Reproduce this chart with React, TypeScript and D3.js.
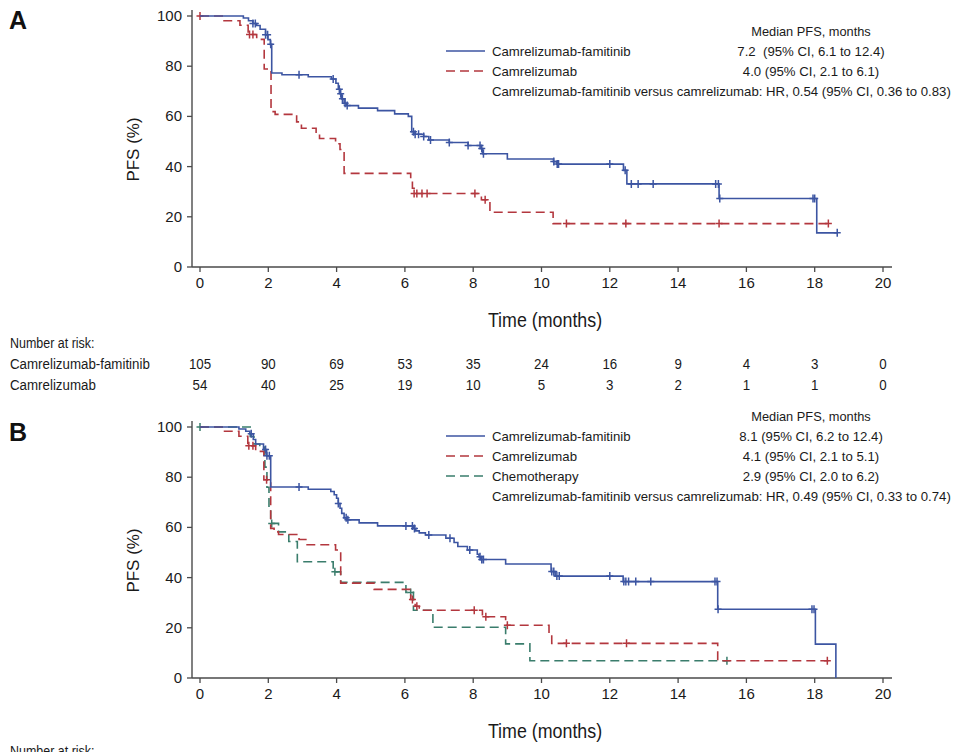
import React from 'react';
import * as d3 from 'd3';

type Pt = [number, number];

const timeTicks = [0, 2, 4, 6, 8, 10, 12, 14, 16, 18, 20];
const pfsTicks = [0, 20, 40, 60, 80, 100];

// ---------- Panel A ----------
const aFamSteps: Pt[] = [
  [0, 100], [1.27, 99.2], [1.42, 98.1], [1.55, 97.0], [1.66, 96.2], [1.76, 94.7], [1.92, 92.5],
  [1.99, 90.6], [2.06, 88.7], [2.1, 77.3], [2.4, 76.6], [3.17, 75.8], [3.85, 74.9], [3.98, 73.2],
  [4.05, 70.8], [4.1, 69.0], [4.15, 67.0], [4.22, 65.2], [4.3, 64.3], [4.64, 63.3], [5.2, 62.3],
  [5.7, 61.0], [6.1, 60.0], [6.2, 53.9], [6.3, 52.9], [6.55, 52.0], [6.7, 50.6], [7.3, 49.6],
  [7.85, 48.4], [8.23, 47.2], [8.28, 45.1], [9.0, 43.0], [10.35, 42.0], [10.45, 41.0],
  [12.4, 38.5], [12.5, 33.1], [15.2, 27.3], [18.06, 13.6]
];
const aFamEnd = 18.66;
const aFamCensor = [1.55, 1.62, 1.92, 1.98, 2.07, 2.9, 3.9, 4.08, 4.12, 4.17, 4.25, 4.31, 6.25, 6.3,
  6.4, 6.55, 6.75, 7.3, 7.85, 8.2, 8.25, 8.3, 10.36, 10.46, 10.5, 12.0, 12.45, 12.63, 12.83, 13.27,
  15.1, 15.18, 15.22, 17.95, 18.0, 18.66];

const aCamSteps: Pt[] = [
  [0, 100], [0.68, 98.1], [1.17, 96.3], [1.41, 92.6], [1.66, 90.7], [1.88, 78.9], [2.08, 61.9],
  [2.2, 60.8], [2.83, 57.8], [2.97, 55.3], [3.4, 53.2], [3.5, 51.2], [3.97, 49.1], [4.1, 46.8],
  [4.22, 37.3], [6.17, 34.7], [6.22, 31.4], [6.27, 29.3], [8.24, 26.8], [8.49, 21.8], [10.34, 17.3]
];
const aCamEnd = 18.4;
const aCamCensor = [0, 1.45, 1.55, 6.27, 6.35, 6.5, 6.65, 8.05, 8.35, 10.73, 12.47, 15.2, 18.4];

const riskTimes = [0, 2, 4, 6, 8, 10, 12, 14, 16, 18, 20];
const riskFamA = [105, 90, 69, 53, 35, 24, 16, 9, 4, 3, 0];
const riskCamA = [54, 40, 25, 19, 10, 5, 3, 2, 1, 1, 0];

// ---------- Panel B ----------
const bFamSteps: Pt[] = [
  [0, 100], [1.14, 99.2], [1.34, 98.3], [1.46, 97.3], [1.56, 95.0], [1.63, 93.2], [1.86, 91.0],
  [1.95, 88.5], [2.07, 76.1], [3.17, 75.2], [3.83, 74.3], [3.93, 73.0], [4.0, 71.6], [4.05, 69.5],
  [4.1, 67.6], [4.15, 65.6], [4.22, 63.8], [4.3, 63.0], [4.66, 61.8], [5.2, 60.6], [6.25, 59.6],
  [6.32, 58.6], [6.42, 57.8], [6.6, 57.0], [7.2, 55.7], [7.44, 54.0], [7.55, 52.4], [7.83, 51.0],
  [8.12, 49.3], [8.17, 48.3], [8.22, 47.2], [8.95, 45.4], [10.28, 42.4], [10.4, 40.6],
  [12.39, 38.4], [15.16, 27.4], [18.02, 13.5], [18.62, 0]
];
const bFamEnd = 18.62;
const bFamCensor = [1.5, 1.92, 1.96, 2.03, 2.9, 4.05, 4.28, 4.33, 6.03, 6.22, 6.28, 6.7, 7.32, 7.9,
  8.2, 8.25, 8.3, 10.3, 10.36, 10.45, 10.52, 12.0, 12.41, 12.47, 12.55, 12.76, 13.2, 15.08, 15.14,
  15.17, 17.92, 17.98];

const bCamSteps: Pt[] = [
  [0, 100], [0.65, 98.3], [1.14, 96.3], [1.4, 92.5], [1.63, 90.3], [1.87, 79.0], [2.07, 59.6],
  [2.17, 58.2], [2.3, 57.2], [2.9, 55.2], [3.1, 53.1], [3.97, 51.0], [4.12, 37.8], [5.1, 35.3],
  [6.17, 31.3], [6.3, 28.6], [6.42, 27.0], [8.27, 24.4], [8.95, 21.0], [10.22, 17.2], [10.3, 13.8],
  [15.16, 6.9]
];
const bCamEnd = 18.4;
const bCamCensor = [1.43, 1.55, 1.95, 6.22, 6.35, 8.03, 8.37, 9.0, 10.73, 12.49, 18.37];

const bChemoSteps: Pt[] = [
  [0, 100], [1.47, 96.2], [1.58, 93.2], [1.75, 92.0], [1.9, 84.0], [1.96, 76.0], [2.02, 68.0],
  [2.07, 61.6], [2.3, 58.2], [2.6, 54.4], [2.85, 46.3], [3.9, 42.3], [4.12, 38.1], [6.03, 34.1],
  [6.25, 27.0], [6.82, 20.2], [8.95, 13.6], [9.66, 6.9]
];
const bChemoEnd = 15.43;
const bChemoCensor = [0, 2.1, 3.95, 6.17, 15.43];

const legendA = [
  { name: 'Camrelizumab-famitinib', value: '7.2\u00a0 (95% CI, 6.1 to 12.4)' },
  { name: 'Camrelizumab', value: '4.0 (95% CI, 2.1 to 6.1)' },
];
const hrA = 'Camrelizumab-famitinib versus camrelizumab: HR, 0.54 (95% CI, 0.36 to 0.83)';
const legendB = [
  { name: 'Camrelizumab-famitinib', value: '8.1 (95% CI, 6.2 to 12.4)' },
  { name: 'Camrelizumab', value: '4.1 (95% CI, 2.1 to 5.1)' },
  { name: 'Chemotherapy', value: '2.9 (95% CI, 2.0 to 6.2)' },
];
const hrB = 'Camrelizumab-famitinib versus camrelizumab: HR, 0.49 (95% CI, 0.33 to 0.74)';

const BLUE = '#3c55a2';
const RED = '#b3373e';
const GREEN = '#3a7d6c';
const AXIS = '#4a4a4a';
const TXT = '#1a1a1a';
const FONT = 'Liberation Sans, Arial, Helvetica, sans-serif';

const x = d3.scaleLinear().domain([0, 20]).range([200, 883]);
const yA = d3.scaleLinear().domain([0, 100]).range([267, 16]);
const yB = d3.scaleLinear().domain([0, 100]).range([678, 427]);

type Series = { steps: Pt[]; end: number; censor: number[]; color: string; dash?: string };

function survAt(steps: Pt[], t: number) {
  let v = steps[0][1];
  for (const s of steps) if (s[0] <= t + 1e-9) v = s[1];
  return v;
}

// condensed text (narrow face emulated with horizontal scale)
function CText({ x: tx, y: ty, size, anchor, sx, children }: { x: number; y: number; size: number; anchor?: string; sx: number; children: React.ReactNode }) {
  return (
    <text transform={`translate(${tx},${ty}) scale(${sx},1)`} fontSize={size} fontFamily={FONT} fill={TXT} textAnchor={anchor || 'start'}>{children}</text>
  );
}

function Curve({ s, y }: { s: Series; y: d3.ScaleLinear<number, number> }) {
  const pts: Pt[] = [...s.steps, [s.end, s.steps[s.steps.length - 1][1]]];
  const line = d3.line<Pt>().x(d => x(d[0])).y(d => y(d[1])).curve(d3.curveStepAfter);
  const marks = s.censor.map(t => {
    const cx = x(t), cy = y(survAt(s.steps, t));
    return `M${cx},${cy - 4}V${cy + 4}M${cx - 3.5},${cy}H${cx + 3.5}`;
  }).join('');
  return (
    <g>
      <path d={line(pts) || ''} fill="none" stroke={s.color} strokeWidth={1.6} strokeDasharray={s.dash} />
      <path d={marks} fill="none" stroke={s.color} strokeWidth={1.5} />
    </g>
  );
}

function Axes({ y }: { y: d3.ScaleLinear<number, number> }) {
  const y0 = y(0), yTop = y(100);
  return (
    <g>
      <line x1={192} x2={192} y1={yTop - 6} y2={y0} stroke={AXIS} strokeWidth={1.4} />
      <line x1={192} x2={x(20) + 9} y1={y0} y2={y0} stroke={AXIS} strokeWidth={1.4} />
      {pfsTicks.map(v => (
        <g key={'y' + v}>
          <line x1={187} x2={192} y1={y(v)} y2={y(v)} stroke={AXIS} strokeWidth={1.3} />
          <text x={182} y={y(v) + 5} textAnchor="end" fontSize={15} fontFamily={FONT} fill={TXT}>{v}</text>
        </g>
      ))}
      {timeTicks.map(t => (
        <g key={'x' + t}>
          <line x1={x(t)} x2={x(t)} y1={y0} y2={y0 + 5} stroke={AXIS} strokeWidth={1.3} />
          <text x={x(t)} y={y0 + 21} textAnchor="middle" fontSize={15} fontFamily={FONT} fill={TXT}>{t}</text>
        </g>
      ))}
      <text transform={`translate(139,${(y0 + yTop) / 2 + 8}) rotate(-90)`} textAnchor="middle" fontSize={17} fontFamily={FONT} fill={TXT}>PFS (%)</text>
      <CText x={545} y={y0 + 60} size={20.5} anchor="middle" sx={0.87}>Time (months)</CText>
    </g>
  );
}

function Legend({ top, items, hr, styles }: { top: number; items: { name: string; value: string }[]; hr: string; styles: { color: string; dash?: string }[] }) {
  return (
    <g fontFamily={FONT} fill={TXT}>
      <text x={811} y={top + 4.5} textAnchor="middle" fontSize={12.8}>Median PFS, months</text>
      {items.map((it, i) => {
        const cy = top + 20 * (i + 1);
        return (
          <g key={it.name}>
            <line x1={446} x2={485} y1={cy} y2={cy} stroke={styles[i].color} strokeWidth={1.6} strokeDasharray={styles[i].dash} />
            <text x={492} y={cy + 4.5} fontSize={13.2}>{it.name}</text>
            <text x={811} y={cy + 4.5} fontSize={13.2} textAnchor="middle">{it.value}</text>
          </g>
        );
      })}
      <text x={492} y={top + 20 * (items.length + 1) + 4.5} fontSize={13.2}>{hr}</text>
    </g>
  );
}

const SX = 0.86;

export default function App() {
  const seriesA: Series[] = [
    { steps: aCamSteps, end: aCamEnd, censor: aCamCensor, color: RED, dash: '9,5' },
    { steps: aFamSteps, end: aFamEnd, censor: aFamCensor, color: BLUE },
  ];
  const seriesB: Series[] = [
    { steps: bChemoSteps, end: bChemoEnd, censor: bChemoCensor, color: GREEN, dash: '9,5' },
    { steps: bCamSteps, end: bCamEnd, censor: bCamCensor, color: RED, dash: '9,5' },
    { steps: bFamSteps, end: bFamEnd, censor: bFamCensor, color: BLUE },
  ];
  return (
    <svg width={960} height={752} viewBox="0 0 960 752" style={{ position: 'absolute', left: 0, top: 0, background: '#fff' }}>
      <rect x={0} y={0} width={960} height={752} fill="#fff" />
      {/* Panel A */}
      <text x={9} y={29} fontSize={25} fontWeight="bold" fontFamily={FONT} fill="#111">A</text>
      <Axes y={yA} />
      {seriesA.map((s, i) => <Curve key={i} s={s} y={yA} />)}
      <Legend top={31} items={legendA} hr={hrA} styles={[{ color: BLUE }, { color: RED, dash: '9,5' }]} />
      <CText x={10} y={348} size={14.5} sx={SX}>Number at risk:</CText>
      <CText x={10} y={369} size={15.5} sx={SX}>Camrelizumab-famitinib</CText>
      <CText x={10} y={390} size={15.5} sx={SX}>Camrelizumab</CText>
      {riskTimes.map((t, i) => (
        <g key={'r' + t}>
          <CText x={x(t)} y={369} size={15.5} sx={SX} anchor="middle">{riskFamA[i]}</CText>
          <CText x={x(t)} y={390} size={15.5} sx={SX} anchor="middle">{riskCamA[i]}</CText>
        </g>
      ))}
      {/* Panel B */}
      <text x={9} y={441} fontSize={25} fontWeight="bold" fontFamily={FONT} fill="#111">B</text>
      <Axes y={yB} />
      {seriesB.map((s, i) => <Curve key={i} s={s} y={yB} />)}
      <Legend top={416} items={legendB} hr={hrB} styles={[{ color: BLUE }, { color: RED, dash: '9,5' }, { color: GREEN, dash: '9,5' }]} />
      <CText x={10} y={756} size={14.5} sx={SX}>Number at risk:</CText>
    </svg>
  );
}
